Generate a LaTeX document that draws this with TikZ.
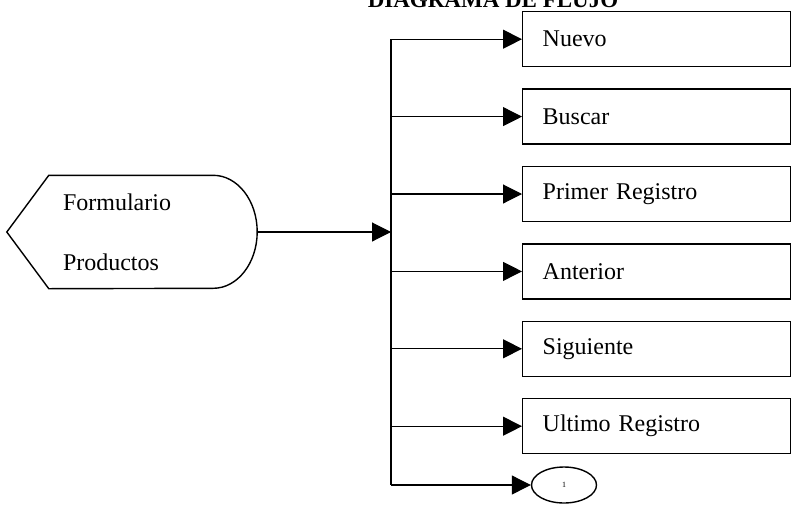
\documentclass[tikz,border=0pt]{standalone}
\usepackage{fontspec}
\setmainfont{Liberation Serif}
\usepackage{tikz}
\usetikzlibrary{arrows.meta,positioning,shapes.geometric}

\begin{document}
\begin{tikzpicture}[
  x=1pt, y=-1pt,
  node distance=21pt,
  opcion/.style={draw, line width=1.4pt, minimum height=55pt, text width=228pt,
    inner xsep=20pt, align=left, font=\fontsize{24}{28}\selectfont},
  flecha/.style={-{Triangle[length=19pt, width=19pt]}, line width=1.1pt}
]
\useasboundingbox (0,0) rectangle (792,504);
\node[anchor=base, font=\bfseries\fontsize{23}{27}\selectfont] (titulo) at (493,7) {DIAGRAMA DE FLUJO};
% formulario (display)
\node[minimum width=250pt, minimum height=113pt, text width=138pt, align=left,
  font=\fontsize{24}{60}\selectfont] (form) at (132,232) {Formulario\\Productos};
\draw[line width=1.4pt] (form.west) -- ([xshift=42pt]form.north west)
  -- ([xshift=-44pt]form.north east)
  arc[start angle=90, end angle=-90, x radius=44pt, y radius=56.5pt]
  -- ([xshift=42pt]form.south west) -- cycle;
% opciones
\node[opcion, anchor=north west] (nuevo) at (522,11) {Nuevo};
\node[opcion, below=of nuevo] (buscar) {Buscar};
\node[opcion, below=of buscar] (primero) {Primer Registro};
\node[opcion, below=of primero] (anterior) {Anterior};
\node[opcion, below=of anterior] (siguiente) {Siguiente};
\node[opcion, below=of siguiente] (ultimo) {Ultimo Registro};
\node[draw, ellipse, line width=1.4pt, minimum width=65pt, minimum height=36pt,
  font=\fontsize{8}{9}\selectfont] (fin) at (564,485) {1};
\coordinate (bus) at (391,0);
\draw[line width=1.4pt] (nuevo.west -| bus) -- (fin.west -| bus);
\draw[flecha] (form.east) -- (form.east -| bus);
\draw[flecha] (nuevo.west -| bus) -- (nuevo.west);
\draw[flecha] (buscar.west -| bus) -- (buscar.west);
\draw[flecha] (primero.west -| bus) -- (primero.west);
\draw[flecha] (anterior.west -| bus) -- (anterior.west);
\draw[flecha] (siguiente.west -| bus) -- (siguiente.west);
\draw[flecha] (ultimo.west -| bus) -- (ultimo.west);
\draw[flecha] (fin.west -| bus) -- (fin.west);
\end{tikzpicture}
\end{document}
